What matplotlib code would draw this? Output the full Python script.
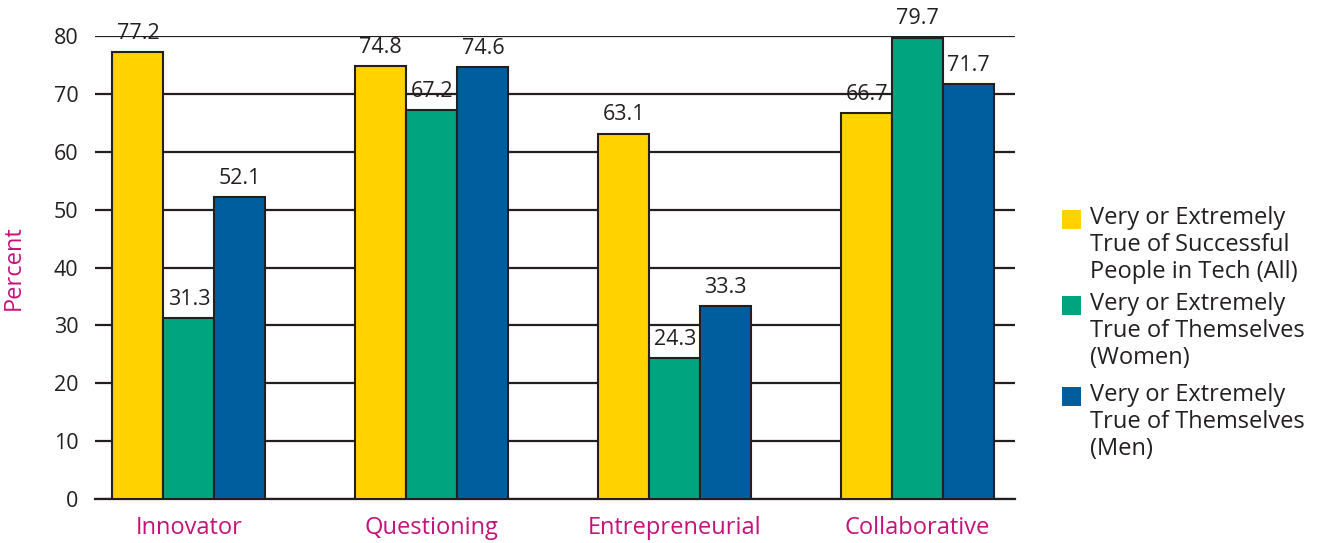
import matplotlib.pyplot as plt
from matplotlib.patches import Rectangle
import numpy as np

plt.rcParams['font.family'] = ['Open Sans', 'DejaVu Sans']

categories = ['Innovator', 'Questioning', 'Entrepreneurial', 'Collaborative']
series_names = ['Very or Extremely\nTrue of Successful\nPeople in Tech (All)',
                'Very or Extremely\nTrue of Themselves\n(Women)',
                'Very or Extremely\nTrue of Themselves\n(Men)']
successful_all = [77.2, 74.8, 63.1, 66.7]
women = [31.3, 67.2, 24.3, 79.7]
men = [52.1, 74.6, 33.3, 71.7]
yticks = [0, 10, 20, 30, 40, 50, 60, 70, 80]

colors = ['#FFD200', '#00A47E', '#005E9E']
edge = '#231F20'
magenta = '#C4127A'

fig = plt.figure(figsize=(13.23, 5.43), dpi=100)
ax = fig.add_axes([0.0718, 0.081, 0.6952, 0.8527])

x = np.arange(len(categories))
width = 0.21
for i, vals in enumerate([successful_all, women, men]):
    pos = x + (i - 1) * width
    ax.bar(pos, vals, width, color=colors[i], edgecolor=edge, linewidth=1.5, zorder=3)
    for px, v in zip(pos, vals):
        ax.annotate(f'{v:.1f}', (px, v), xytext=(0, 6), textcoords='offset points',
                    ha='center', va='bottom', fontsize=15.5, color='#231F20',
                    annotation_clip=False)

ax.set_xlim(-0.387, 3.40)
ax.set_ylim(0, 80)
ax.set_yticks(yticks)
ax.yaxis.grid(True, color=edge, linewidth=1.6, zorder=0)
ax.set_axisbelow(True)
for s in ['left', 'right', 'top']:
    ax.spines[s].set_visible(False)
ax.spines['bottom'].set_color(edge)
ax.spines['bottom'].set_linewidth(1.6)
ax.tick_params(axis='y', length=0, pad=12, labelsize=15.5, labelcolor='#231F20')
ax.set_xticks(x)
ax.set_xticklabels(categories)
ax.tick_params(axis='x', length=0, pad=12, labelsize=17, labelcolor=magenta)
ax.set_ylabel('Percent', color=magenta, fontsize=17, labelpad=20)

# legend drawn by hand so the swatch sits next to the first line of each label
leg_x = 1062 / 1323
text_x = 1090 / 1323
tops = [206, 292, 383]
for color, name, top in zip(colors, series_names, tops):
    fig.patches.append(Rectangle((leg_x, 1 - (top + 23) / 543), 19 / 1323, 19 / 543,
                                 transform=fig.transFigure, facecolor=color,
                                 edgecolor='none'))
    fig.text(text_x, 1 - top / 543, name, ha='left', va='top', fontsize=17,
             color='#231F20', linespacing=1.18)

fig.savefig('out.png', dpi=100)
